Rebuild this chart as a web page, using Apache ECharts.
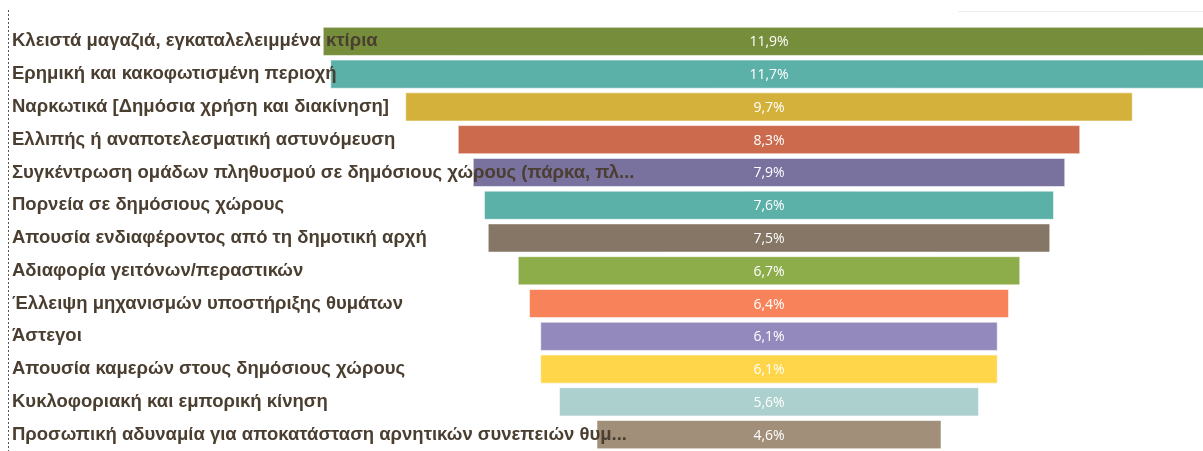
<!DOCTYPE html>
<html>
<head>
<meta charset="utf-8">
<script src="https://cdn.jsdelivr.net/npm/echarts@6/dist/echarts.min.js"></script>
<style>
html,body{margin:0;padding:0;background:#fff;}
#chart{width:1203px;height:451px;}
</style>
</head>
<body>
<div id="chart"></div>
<script>
const categories = [
  "Κλειστά μαγαζιά, εγκαταλελειμμένα κτίρια",
  "Ερημική και κακοφωτισμένη περιοχή",
  "Ναρκωτικά [Δημόσια χρήση και διακίνηση]",
  "Ελλιπής ή αναποτελεσματική αστυνόμευση",
  "Συγκέντρωση ομάδων πληθυσμού σε δημόσιους χώρους (πάρκα, πλ...",
  "Πορνεία σε δημόσιους χώρους",
  "Απουσία ενδιαφέροντος από τη δημοτική αρχή",
  "Αδιαφορία γειτόνων/περαστικών",
  "Έλλειψη μηχανισμών υποστήριξης θυμάτων",
  "Άστεγοι",
  "Απουσία καμερών στους δημόσιους χώρους",
  "Κυκλοφοριακή και εμπορική κίνηση",
  "Προσωπική αδυναμία για αποκατάσταση αρνητικών συνεπειών θυμ..."
];
const values = [11.9, 11.7, 9.7, 8.3, 7.9, 7.6, 7.5, 6.7, 6.4, 6.1, 6.1, 5.6, 4.6];
const colors = ["#768E3C", "#5BB0A8", "#D3B13B", "#CC6A4D", "#79719E", "#5BB0A8", "#857665", "#8DAD4A", "#F8825A", "#9489BD", "#FFD54A", "#ABD0CD", "#A28F7A"];

const center = 10; // funnel axis centre (value units)
const offsets = values.map(v => center - v / 2);

const chart = echarts.init(document.getElementById('chart'));
chart.setOption({
  animation: false,
  backgroundColor: '#ffffff',
  grid: { left: 19, top: 25, width: 1125, height: 431, containLabel: false },
  xAxis: { type: 'value', min: 0, max: 15, show: false },
  yAxis: {
    type: 'category', data: categories, inverse: true, z: 10,
    axisLine: { show: false }, axisTick: { show: false }, splitLine: { show: false },
    axisLabel: {
      align: 'left', margin: 7, color: '#4a3e31',
      fontFamily: 'Liberation Sans, Arial, sans-serif', fontWeight: 'bold', fontSize: 18.5
    }
  },
  graphic: [
    { type: 'line', shape: { x1: 8.5, y1: 10, x2: 8.5, y2: 451 }, style: { stroke: '#555', lineWidth: 1, lineDash: [2, 2] } },
    { type: 'line', shape: { x1: 958, y1: 11.5, x2: 1203, y2: 11.5 }, style: { stroke: '#eeeeee', lineWidth: 1 } }
  ],
  series: [
    {
      type: 'bar', stack: 'f', data: offsets, silent: true, clip: false,
      itemStyle: { color: 'transparent' }, barCategoryGap: '11%'
    },
    {
      type: 'bar', stack: 'f', barCategoryGap: '11%', clip: false,
      data: values.map((v, i) => ({ value: v, itemStyle: { color: colors[i] } })),
      itemStyle: { borderColor: 'rgba(255,255,255,0.55)', borderWidth: 1 },
      label: {
        show: true, position: 'inside', color: '#ffffff', offset: [0, 1],
        fontFamily: 'Open Sans, sans-serif', fontSize: 14,
        formatter: p => p.value.toFixed(1).replace('.', ',') + '%'
      }
    }
  ]
});
</script>
</body>
</html>
